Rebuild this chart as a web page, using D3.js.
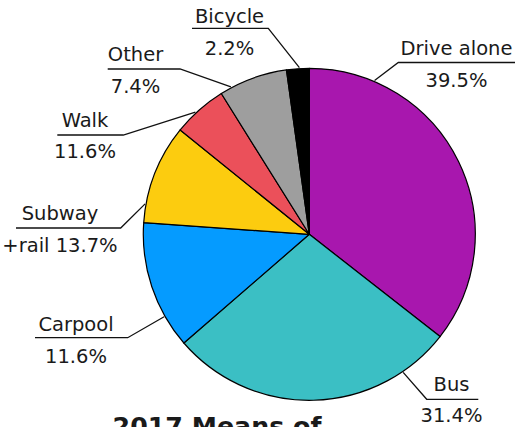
<!DOCTYPE html>
<html>
<head>
<meta charset="utf-8">
<script src="https://cdn.jsdelivr.net/npm/d3@7"></script>
<style>
  html, body { margin: 0; padding: 0; background: #fff; overflow: hidden; }
  svg { display: block; }
  text { font-family: "DejaVu Sans", "Noto Sans", sans-serif; fill: #1a1a1a; }
</style>
</head>
<body>
<svg id="chart" width="519" height="427"></svg>
<script>
// ---- data ----
const categories = ["Drive alone", "Bus", "Carpool", "Subway", "Walk", "Other", "Bicycle"];
const sliceValues = [35.6, 28.1, 12.5, 9.7, 5.3, 6.7, 2.2];
const labelNames = ["Drive alone", "Bus", "Carpool", "Subway", "Walk", "Other", "Bicycle"];
const labelValues = ["39.5%", "31.4%", "11.6%", "+rail 13.7%", "11.6%", "7.4%", "2.2%"];
const titleText = "2017 Means of";

// ---- styles / layout ----
const colors = ["#A817AE", "#3BBFC4", "#059BFF", "#FCCC0F", "#EB505A", "#9E9E9E", "#000000"];
const cx = 309.3, cy = 234.3, radius = 166;
// label layout: centre x, name baseline, underline y, value baseline, underline extent, leader side, leader angle (deg)
const labelLayout = [
  { x: 456.5, ny: 54.5, ly: 62.5, vy: 86.5, u0: 398.3, u1: 515, side: 0, ang: 23 },
  { x: 451.5, ny: 390.7, ly: 399.3, vy: 421.7, u0: 426.7, u1: 478.3, side: 0, ang: 145.8 },
  { x: 76, ny: 330.7, ly: 337.7, vy: 362.7, u0: 35, u1: 127.7, side: 1, ang: 240.4 },
  { x: 60, ny: 220, ly: 228, vy: 251.7, u0: 16, u1: 120.7, side: 1, ang: 280.5 },
  { x: 85, ny: 126.7, ly: 135, vy: 158.3, u0: 57.3, u1: 123.3, side: 1, ang: 317 },
  { x: 135.5, ny: 61, ly: 69, vy: 92.7, u0: 107.7, u1: 180, side: 1, ang: 332 },
  { x: 229.5, ny: 22.7, ly: 28.3, vy: 54.5, u0: 192, u1: 268.3, side: 1, ang: 356.6 }
];
const labelFont = 19.5;

const svg = d3.select("#chart");
const data = categories.map((c, i) => ({ name: c, value: sliceValues[i], color: colors[i] }));

const pie = d3.pie().value(d => d.value).sort(null);
const arc = d3.arc().innerRadius(0).outerRadius(radius);

const g = svg.append("g").attr("transform", `translate(${cx},${cy})`);
g.selectAll("path.slice")
  .data(pie(data))
  .join("path")
  .attr("class", "slice")
  .attr("d", arc)
  .attr("fill", d => d.data.color)
  .attr("stroke", "#000")
  .attr("stroke-width", 1.2)
  .attr("stroke-linejoin", "round");

// labels
const lg = svg.append("g");
labelLayout.forEach((L, i) => {
  const a = L.ang * Math.PI / 180;
  const px = cx + (radius + 1) * Math.sin(a);
  const py = cy - (radius + 1) * Math.cos(a);
  const sx = L.side === 0 ? L.u0 : L.u1;
  const ox = L.side === 0 ? L.u1 : L.u0;
  lg.append("path")
    .attr("d", `M${ox},${L.ly}L${sx},${L.ly}L${px},${py}`)
    .attr("fill", "none")
    .attr("stroke", "#111")
    .attr("stroke-width", 1.3);
  lg.append("text")
    .attr("x", L.x).attr("y", L.ny)
    .attr("text-anchor", "middle")
    .attr("font-size", labelFont)
    .text(labelNames[i]);
  lg.append("text")
    .attr("x", L.x).attr("y", L.vy)
    .attr("text-anchor", "middle")
    .attr("font-size", labelFont)
    .text(labelValues[i]);
});

svg.append("text")
  .attr("x", 217).attr("y", 435)
  .attr("text-anchor", "middle")
  .attr("font-size", 25.3)
  .attr("font-weight", "bold")
  .text(titleText);
</script>
</body>
</html>
